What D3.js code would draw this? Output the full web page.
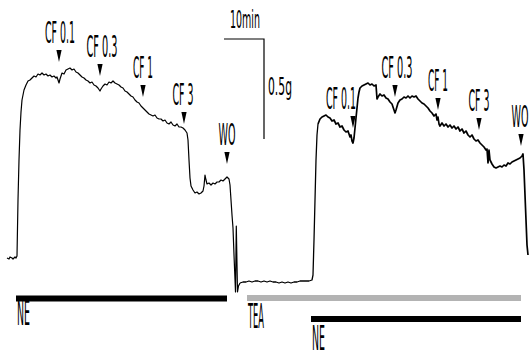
<!DOCTYPE html>
<html><head><meta charset="utf-8">
<script src="https://cdn.jsdelivr.net/npm/d3@7"></script>
<style>html,body{margin:0;padding:0;background:#fff;}svg{display:block;}</style>
</head><body>
<script>
// ---- DATA (time in min, tension in g) ----
const controlTrace = [[0,0.21],[0.5,0.205],[0.75,0.215],[1.25,0.21],[1.5,0.205],[2,0.215],[2.25,0.21],[2.5,0.22],[2.75,0.5],[3,0.7],[3.25,0.85],[3.5,0.94],[3.75,1.0],[4.25,1.05],[4.75,1.075],[5.25,1.095],[5.75,1.1],[6.25,1.11],[6.75,1.12],[7.25,1.115],[7.75,1.13],[8.25,1.125],[8.75,1.135],[9.25,1.125],[9.75,1.13],[10.25,1.12],[10.75,1.125],[11.25,1.115],[11.75,1.12],[12.25,1.11],[12.5,1.115],[12.75,1.1],[13,1.085],[13.25,1.105],[13.5,1.12],[13.75,1.135],[14.25,1.13],[14.75,1.15],[15.25,1.155],[15.75,1.16],[16.25,1.15],[16.75,1.155],[17.25,1.14],[17.75,1.135],[18.25,1.125],[18.75,1.115],[19.25,1.11],[19.75,1.1],[20.25,1.095],[20.75,1.085],[21.25,1.09],[21.75,1.075],[22.25,1.07],[22.75,1.06],[23.25,1.045],[23.5,1.055],[24,1.07],[24.5,1.08],[25,1.075],[25.5,1.09],[26,1.085],[26.5,1.095],[27,1.085],[27.5,1.08],[28,1.075],[28.5,1.065],[29,1.06],[29.5,1.045],[30,1.04],[30.5,1.03],[31,1.02],[31.5,1.015],[32,1.0],[32.5,0.99],[33,0.985],[33.5,0.97],[34,0.96],[34.5,0.95],[35,0.94],[35.5,0.93],[36,0.925],[36.5,0.92],[37,0.925],[37.5,0.91],[38,0.905],[38.5,0.905],[39,0.895],[39.5,0.9],[40,0.885],[40.5,0.88],[41,0.89],[41.5,0.875],[42,0.87],[42.5,0.88],[43,0.865],[43.5,0.865],[44,0.86],[44.5,0.85],[45,0.835],[45.25,0.8],[45.5,0.7],[45.75,0.61],[46,0.57],[46.5,0.55],[47,0.535],[47.5,0.54],[48,0.53],[48.5,0.535],[49,0.545],[49.25,0.57],[49.5,0.625],[49.75,0.6],[50,0.58],[50.5,0.585],[51,0.575],[51.5,0.585],[52,0.58],[52.5,0.59],[53,0.59],[53.5,0.6],[54,0.595],[54.5,0.605],[55,0.615],[55.5,0.605],[55.75,0.575],[56,0.5],[56.25,0.425],[56.5,0.36],[56.75,0.225],[57.125,0.04],[57.325,0.37],[57.625,0.04],[57.875,0.07],[58.25,0.085]];
const teaBaseline = [[58.25,0.085],[59,0.09],[59.75,0.09],[60.5,0.095],[61.25,0.09],[62,0.095],[62.75,0.095],[63.5,0.09],[64.25,0.095],[65,0.09],[65.75,0.095],[66.5,0.09],[67.25,0.09],[68,0.085],[68.75,0.09],[69.5,0.085],[70.25,0.09],[71,0.085],[71.75,0.09],[72.5,0.09],[73.25,0.095],[74,0.095],[74.75,0.095],[75.5,0.095],[76.25,0.1],[76.5,0.125],[76.75,0.3],[77,0.5],[77.25,0.7],[77.5,0.825],[77.75,0.88]];
const teaNETrace = [[77.75,0.88],[78.25,0.905],[78.75,0.915],[79.25,0.92],[79.75,0.925],[80.25,0.915],[80.75,0.91],[81.25,0.895],[81.75,0.9],[82.25,0.88],[82.75,0.885],[83.25,0.865],[83.75,0.87],[84.25,0.85],[84.75,0.84],[85.25,0.845],[85.75,0.815],[86,0.825],[86.25,0.795],[86.5,0.785],[86.75,0.81],[87,0.86],[87.25,0.91],[87.5,0.96],[87.75,1.01],[88,1.04],[88.25,1.06],[88.75,1.07],[89.25,1.075],[89.75,1.08],[90.25,1.085],[90.75,1.075],[91.25,1.08],[91.75,1.07],[92.25,1.075],[92.5,1.005],[92.75,1.015],[93.25,1.03],[93.75,1.02],[94.25,1.025],[94.75,1.01],[95.25,1.005],[95.75,0.99],[96.25,0.98],[96.75,0.95],[97,0.935],[97.25,0.95],[97.75,0.985],[98.25,1.0],[98.75,1.005],[99.25,1.015],[99.75,1.01],[100.25,1.02],[100.75,1.01],[101.25,1.02],[101.75,1.015],[102.25,1.02],[102.75,1.005],[103.25,0.995],[103.75,0.985],[104.25,0.98],[104.75,0.97],[105.25,0.96],[105.75,0.945],[106.25,0.935],[106.75,0.92],[107.25,0.93],[107.5,0.9],[107.75,0.915],[108,0.88],[108.25,0.87],[108.75,0.885],[109.25,0.87],[109.75,0.88],[110.25,0.865],[110.75,0.875],[111.25,0.86],[111.75,0.87],[112.25,0.855],[112.75,0.865],[113.25,0.845],[113.75,0.855],[114.25,0.835],[114.75,0.845],[115.25,0.825],[115.75,0.815],[116.25,0.825],[116.75,0.805],[117.25,0.795],[117.75,0.8],[118.25,0.785],[118.75,0.775],[119.25,0.765],[119.75,0.75],[120,0.755],[120.25,0.685],[120.5,0.75],[120.75,0.7],[121.25,0.68],[121.75,0.665],[122.25,0.66],[122.75,0.665],[123.25,0.67],[123.75,0.665],[124.25,0.675],[124.75,0.67],[125.25,0.685],[125.75,0.68],[126.25,0.69],[126.75,0.695],[127.25,0.7],[127.75,0.705],[128.25,0.71],[128.75,0.72],[129,0.73],[129.25,0.65],[129.5,0.525],[129.75,0.4],[130,0.275],[130.25,0.225]];

const eventLabels = ["CF 0.1","CF 0.3","CF 1","CF 3","WO"];
const eventTimesControl = [13, 23.25, 34, 44.25, 55];
const eventTipsControl = [1.19, 1.12, 1.015, 0.88, 0.68];
const eventTimesTEA = [86.5, 97, 107.75, 118, 128.5];
const eventTipsTEA = [0.86, 1.015, 0.95, 0.85, 0.77];

const barLabels = ["NE","TEA","NE"];
const barStarts = [2.25, 60, 76];
const barEnds = [55, 128.5, 128.5];

const scaleTime = 10;    // min
const scaleTension = 0.5; // g
const scaleLabels = ["10min","0.5g"];

// ---- DRAWING ----
const W = 529, H = 351;
const svg = d3.select("body").append("svg").attr("width", W).attr("height", H);
const x = d3.scaleLinear().domain([0, 130.5]).range([7, 529]);
const y = d3.scaleLinear().domain([0, 1.5]).range([300, 0]);
const line = d3.line().x(d => x(d[0])).y(d => y(d[1]));

const FONT = "'Liberation Sans Narrow','DejaVu Sans Condensed','Liberation Sans',sans-serif";

svg.append("path").datum(controlTrace).attr("d", line)
  .attr("fill","none").attr("stroke","#000").attr("stroke-width",1.2).attr("stroke-linejoin","round");
svg.append("path").datum(teaBaseline).attr("d", line)
  .attr("fill","none").attr("stroke","#000").attr("stroke-width",1.3).attr("stroke-linejoin","round");
svg.append("path").datum(teaNETrace).attr("d", line)
  .attr("fill","none").attr("stroke","#000").attr("stroke-width",1.7).attr("stroke-linejoin","round");

const labelWidth = {"CF 0.1":30,"CF 0.3":31,"CF 1":20,"CF 3":21,"WO":17,"10min":30,"0.5g":24,"NE":13,"TEA":16};

// narrow text: render at font size, then squeeze horizontally to the target width
function narrowText(str, px, py, size, anchor) {
  const g = svg.append("g");
  const t = g.append("text").attr("x", 0).attr("y", 0)
    .attr("font-family", FONT).attr("font-size", size)
    .attr("fill", "#000").text(str);
  const w = t.node().getComputedTextLength() || 1;
  const sx = labelWidth[str] / w;
  const ox = anchor === "middle" ? -labelWidth[str] / 2 : 0;
  g.attr("transform", `translate(${px + ox},${py}) scale(${sx},1)`);
}

function addEvents(times, tips, dxs) {
  times.forEach((t, i) => {
    const cx = x(t), ty = y(tips[i]);
    svg.append("path")
      .attr("d", `M${cx-2.6},${ty-12} L${cx+2.6},${ty-12} L${cx},${ty} Z`)
      .attr("fill","#000");
    narrowText(eventLabels[i], cx + (dxs[i]||0), ty - 19, 30, "middle");
  });
}
addEvents(eventTimesControl, eventTipsControl, [1,2,0,-1,0]);
addEvents(eventTimesTEA, eventTipsTEA, [-12,2,0,0,-1]);

// scale bar
const sbX = 264, sbY = 39;
const sbLen = x(scaleTime) - x(0);
const sbH = y(0) - y(scaleTension);
svg.append("path").attr("d", `M${sbX - sbLen},${sbY} L${sbX},${sbY} L${sbX},${sbY + sbH}`)
  .attr("fill","none").attr("stroke","#000").attr("stroke-width",1.2);
narrowText(scaleLabels[0], 245, 28, 24, "middle");
narrowText(scaleLabels[1], 268, 95, 24, "start");

// bars
const barY = [298.5, 298, 319];
const barColor = ["#000","#b3b3b3","#000"];
const labelY = [325, 328, 350];
barLabels.forEach((lab, i) => {
  svg.append("rect").attr("x", x(barStarts[i])).attr("y", barY[i] - 3)
    .attr("width", x(barEnds[i]) - x(barStarts[i])).attr("height", 6)
    .attr("fill", barColor[i]);
  narrowText(lab, x(barStarts[i]) + 1, labelY[i], 34, "start");
});
</script>
</body></html>
